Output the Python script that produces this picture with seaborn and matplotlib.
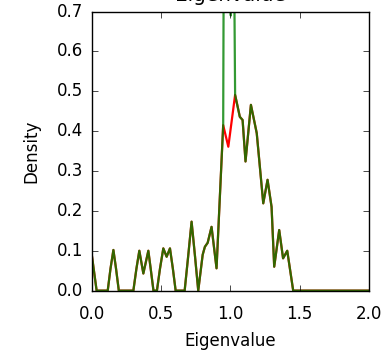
import matplotlib
matplotlib.use("Agg")
import matplotlib.pyplot as plt
import seaborn as sns
import pandas as pd

plt.style.use("classic")
plt.rcParams["font.family"] = ["DejaVu Sans"]

# Density of eigenvalues sampled along the eigenvalue axis
eigenvalue = [0.0, 0.035, 0.115, 0.135, 0.156, 0.175, 0.195, 0.30, 0.322, 0.343,
              0.372, 0.408, 0.425, 0.445, 0.47, 0.492, 0.516, 0.540, 0.564,
              0.585, 0.605, 0.67, 0.695, 0.72, 0.745, 0.768, 0.80, 0.816,
              0.836, 0.864, 0.90, 0.948, 0.985, 1.034, 1.068, 1.088, 1.109,
              1.148, 1.19, 1.237, 1.268, 1.297, 1.316, 1.352, 1.38, 1.41,
              1.453, 2.0]
density_full = [0.09, 0.0, 0.0, 0.055, 0.102, 0.055, 0.0, 0.0, 0.055, 0.10,
                0.043, 0.10, 0.055, 0.0, 0.0, 0.055, 0.106, 0.085, 0.106,
                0.055, 0.0, 0.0, 0.085, 0.173, 0.085, 0.0, 0.09, 0.11,
                0.12, 0.16, 0.056, 0.415, 0.361, 0.491, 0.436, 0.428, 0.324,
                0.466, 0.395, 0.219, 0.278, 0.21, 0.06, 0.152, 0.081, 0.10,
                0.0, 0.0]

# Second estimate: identical except for a sharp spike around 1.0
spike_x = [0.948, 0.958, 1.003, 1.012, 1.034]
spike_y = [0.415, 1.50, 0.69, 1.50, 0.491]

green_x = [v for v in eigenvalue if v < 0.948] + spike_x + \
          [v for v in eigenvalue if v > 1.034]
green_y = [d for v, d in zip(eigenvalue, density_full) if v < 0.948] + spike_y + \
          [d for v, d in zip(eigenvalue, density_full) if v > 1.034]

red_df = pd.DataFrame({"Eigenvalue": eigenvalue, "Density": density_full})
green_df = pd.DataFrame({"Eigenvalue": green_x, "Density": green_y})

fig = plt.figure(figsize=(3.84, 3.51), dpi=100)
ax = fig.add_axes([0.239, 0.172, 0.722, 0.795])

sns.lineplot(data=red_df, x="Eigenvalue", y="Density", color="red",
             linewidth=1.6, sort=False, estimator=None, ax=ax)
sns.lineplot(data=green_df, x="Eigenvalue", y="Density", color="green",
             linewidth=1.6, alpha=0.8, sort=False, estimator=None, ax=ax)

ax.set_xlim(0, 2)
ax.set_ylim(0, 0.7)
ax.set_xticks([0.0, 0.5, 1.0, 1.5, 2.0])
ax.set_yticks([0.0, 0.1, 0.2, 0.3, 0.4, 0.5, 0.6, 0.7])
ax.tick_params(axis="x", pad=10)
ax.tick_params(axis="y", pad=6)
ax.set_xlabel("Eigenvalue", labelpad=7)
ax.set_ylabel("Density", labelpad=12)
ax.set_title("Eigenvalue", pad=7.5)

fig.savefig("out.png", dpi=100, facecolor="white")
